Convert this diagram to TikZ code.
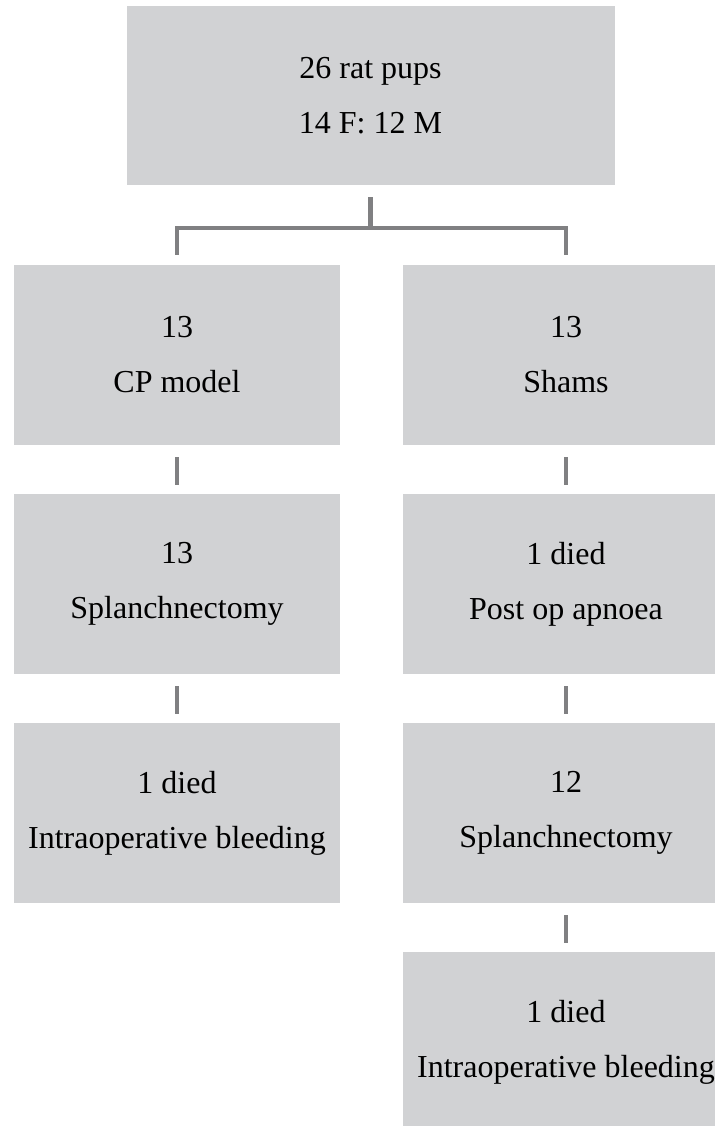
\documentclass[tikz,border=0pt]{standalone}
\usepackage{fontspec}
\setmainfont{Liberation Serif}
\usepackage{xcolor}
\usepackage{tikz}
\usetikzlibrary{positioning}

\definecolor{boxgrey}{RGB}{209,210,212}
\definecolor{linkgrey}{RGB}{128,128,130}

\begin{document}
\begin{tikzpicture}[
        x=0.5pt, y=-0.5pt,
        node distance=114.5pt,
        on grid,
        stage/.style={fill=boxgrey, minimum width=163pt, minimum height=90pt,
          inner sep=0pt, align=center, font=\fontsize{16}{27.5}\selectfont},
        link/.style={draw=linkgrey, line width=2.4pt},
      ]

      \useasboundingbox (0,0) rectangle (714,1126);

      \node[stage, minimum width=244pt, minimum height=89.5pt] (pups) at (370.5,95.5)
        {26 rat pups\\14 F: 12 M};

      % left arm
      \node[stage] (cp) at (177,355) {13\\CP model};
      \node[stage, below=of cp] (cpsplanch) {13\\Splanchnectomy};
      \node[stage, below=of cpsplanch] (cpdied) {1 died\\Intraoperative bleeding};

      % right arm
      \node[stage] (sham) at (566,355) {13\\Shams};
      \node[stage, below=of sham] (shamdied) {1 died\\Post op apnoea};
      \node[stage, below=of shamdied] (shamsplanch) {12\\Splanchnectomy};
      \node[stage, below=of shamsplanch] (shambled) {1 died\\Intraoperative bleeding};

      \coordinate (split) at (370.5,228);

      \draw[link, shorten <=6pt] (pups.south) -- (split);
      \draw[link, shorten <=5pt, shorten >=5pt] (cp.north) |- (split) -| (sham.north);

      \path[link, shorten <=6pt, shorten >=4.5pt]
      (cp) edge (cpsplanch)
      (cpsplanch) edge (cpdied)
      (sham) edge (shamdied)
      (shamdied) edge (shamsplanch)
      (shamsplanch) edge (shambled);
    \end{tikzpicture}
\end{document}
